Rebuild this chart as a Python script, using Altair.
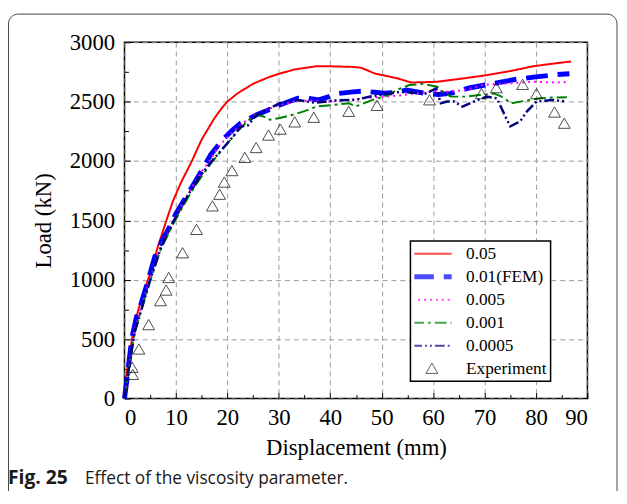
import altair as alt
import pandas as pd

series_names = ["0.05", "0.01(FEM)", "0.005", "0.001", "0.0005"]
legend_names = series_names + ["Experiment"]

disp_a = [0, 0.4, 1, 1.7, 2.7, 4, 5.3, 6.5, 8, 9.4, 11, 13, 15, 17.5, 19, 20, 22, 25, 28, 30.2,
          33, 37.2, 40, 44.5, 46, 48.7, 51, 53.2, 55.7, 58, 60.8, 65, 70.3, 75, 79.4, 83, 86.8]
load_a = [0, 200, 380, 560, 750, 930, 1090, 1280, 1480, 1660, 1820, 1990, 2180, 2361, 2450, 2500, 2570, 2650, 2705, 2736,
          2770, 2797, 2797, 2792, 2785, 2736, 2715, 2694, 2661, 2663, 2667, 2690, 2722, 2757, 2797, 2818, 2838]

disp_b = [0, 0.5, 1.4, 2.3, 3.3, 4.5, 5.9, 7.3, 8.6, 10, 11.3, 12.7, 14.6, 16.8, 19.1, 21, 22.6, 25.7, 28, 30.2,
          33.7, 35.5, 37.8, 41.6, 44, 46.4, 50.6, 53, 54.8, 58.6, 61, 63.4, 67.2, 71.8, 75.9, 79.9, 84, 86.5]
load_b = [0, 170, 500, 680, 808, 980, 1195, 1330, 1430, 1556, 1650, 1750, 1889, 2056, 2180, 2260, 2319, 2389, 2430, 2472,
          2528, 2530, 2514, 2569, 2580, 2588, 2570, 2578, 2597, 2569, 2560, 2569, 2617, 2653, 2686, 2708, 2727, 2735]

disp_c = [0, 1, 2, 3.5, 5, 7, 9, 11, 13, 15, 17, 18, 20, 23, 25, 27.6, 30, 33, 36, 40,
          43.6, 47, 51.3, 55, 58, 61, 63, 66.5, 69.8, 74.2, 79.5, 83.9, 86]
load_c = [0, 320, 580, 800, 1010, 1280, 1460, 1620, 1770, 1910, 2030, 2110, 2200, 2320, 2380, 2431, 2470, 2500, 2510, 2500,
          2514, 2530, 2542, 2560, 2575, 2590, 2583, 2600, 2642, 2653, 2667, 2661, 2665]

disp_d = [0, 1, 2, 3.5, 5, 7, 9, 11, 13, 15, 17, 19, 21, 22.6, 24, 25.7, 27, 28.3, 30, 32.7,
          35, 37.3, 40, 43.6, 45, 48, 51.3, 53, 55.4, 58, 60.8, 62, 63.4, 66.5, 69, 71.8, 73.2, 75.2, 77, 80.8,
          83.3, 86]
load_d = [0, 300, 560, 780, 990, 1250, 1430, 1590, 1740, 1870, 1990, 2095, 2200, 2278, 2340, 2389, 2375, 2347, 2360, 2389,
          2420, 2458, 2470, 2486, 2460, 2510, 2556, 2600, 2639, 2650, 2625, 2580, 2542, 2542, 2555, 2569, 2545, 2486, 2500, 2528,
          2535, 2536]

disp_e = [0, 1, 2, 3.5, 5, 7, 9, 11, 13, 15, 17, 19, 21, 22.6, 24, 25.5, 27, 30.2, 33.7, 37,
          41, 44.9, 48, 51, 53.8, 56, 58.6, 60.6, 61.5, 62.7, 64.1, 65.7, 67.9, 70.4, 72.4, 74.2, 75, 76.9, 78.3, 80.1,
          83.3, 86]
load_e = [0, 300, 560, 780, 1000, 1260, 1450, 1610, 1760, 1890, 2000, 2100, 2200, 2290, 2300, 2380, 2420, 2486, 2514, 2490,
          2510, 2514, 2545, 2565, 2583, 2575, 2569, 2611, 2486, 2500, 2500, 2458, 2500, 2542, 2528, 2361, 2292, 2333, 2420, 2500,
          2514, 2500]

exp_x = [1.5, 1.6, 2.8, 4.7, 7.0, 8.1, 8.6, 11.3, 14.0, 17.1, 18.5, 19.4, 20.9, 23.4, 25.6, 28.0, 30.3, 33.1, 36.8, 43.6,
         49.1, 59.3, 69.4, 72.3, 77.4, 80.1, 83.6, 85.5]
exp_y = [260, 200, 414, 619, 821, 910, 1016, 1224, 1421, 1619, 1717, 1819, 1916, 2027, 2110, 2215, 2265, 2326, 2365, 2415,
         2465, 2512, 2564, 2614, 2642, 2564, 2409, 2315]

x_ticks = list(range(0, 91, 10))
y_ticks = list(range(0, 3001, 500))

rows = []
for name, xs, ys in zip(series_names, [disp_a, disp_b, disp_c, disp_d, disp_e],
                        [load_a, load_b, load_c, load_d, load_e]):
    for a, b in zip(xs, ys):
        rows.append({"series": name, "disp": a, "load": b})
lines_df = pd.DataFrame(rows)
exp_df = pd.DataFrame({"series": ["Experiment"] * len(exp_x), "disp": exp_x, "load": exp_y})
one = pd.DataFrame({"k": [0]})

colors = ["#FF0000", "#0000FF", "#FF00FF", "#008000", "#000080", "#000000"]
dashes = [[1, 0], [22, 10], [2, 4], [12, 4, 3, 4], [10, 3, 2, 3, 2, 3], [1, 0]]
tri = "M0,-0.28L-0.3,0.24L0.3,0.24Z"
shapes = ["stroke"] * 5 + [tri]

xscale = alt.Scale(domain=[0, 90], nice=False, zero=False)
yscale = alt.Scale(domain=[0, 3000], nice=False, zero=False)

legend = alt.Legend(
    title=None, orient="none", legendX=289.7, legendY=201.5,
    symbolSize=1600, symbolOffset=9,
    symbolStrokeWidth={"expr": "datum.value === '0.01(FEM)' ? 5 : (datum.value === 'Experiment' ? 1 : 2)"},
    labelFont="Liberation Serif", labelFontSize=17.5,
    labelColor="black", labelOffset=25.8, padding=4, rowPadding=4.3, clipHeight=17.5,
    strokeColor="black", fillColor="white",
)

frame = alt.Chart(one).mark_rect(fillOpacity=0, stroke="#444", strokeWidth=1, cornerRadius=10).encode(
    x=alt.value(-117.5), x2=alt.value(499), y=alt.value(-28.5), y2=alt.value(480)
)

lines = alt.Chart(lines_df).mark_line(strokeCap="butt").encode(
    x=alt.X("disp:Q", scale=xscale, axis=alt.Axis(
        orient="bottom", values=x_ticks, title="Displacement (mm)", ticks=False, tickSize=0,
        domain=False, grid=True, gridDash=[5, 4], gridColor="#999", gridWidth=1,
        labelPadding=8, titlePadding=8)),
    y=alt.Y("load:Q", scale=yscale, axis=alt.Axis(
        orient="left", values=y_ticks, format="d", title="Load (kN)", ticks=False, tickSize=0,
        domain=False, grid=True, gridDash=[5, 4], gridColor="#999", gridWidth=1,
        labelPadding=10, titlePadding=14)),
    color=alt.Color("series:N", scale=alt.Scale(domain=legend_names, range=colors), legend=legend),
    strokeDash=alt.StrokeDash("series:N", scale=alt.Scale(domain=legend_names, range=dashes), legend=legend),
    strokeWidth={"condition": [
        {"test": "datum.series === '0.01(FEM)'", "value": 5},
        {"test": "datum.series === '0.0005'", "value": 2.5}], "value": 2},
)

points = alt.Chart(exp_df).mark_point(filled=False, color="black", strokeWidth=1, size=1600).encode(
    x=alt.X("disp:Q", scale=xscale, axis=alt.Axis(
        orient="top", offset=-361, values=list(range(0, 91, 5)), labels=False, domain=False, grid=False,
        ticks=True, tickColor="black", tickWidth=1,
        tickSize={"condition": {"test": "datum.value % 10 === 0", "value": 6}, "value": 4}, title=None)),
    y=alt.Y("load:Q", scale=yscale, axis=alt.Axis(
        orient="right", offset=-469, values=list(range(0, 3001, 250)), labels=False, domain=False, grid=False,
        ticks=True, tickColor="black", tickWidth=1,
        tickSize={"condition": {"test": "datum.value % 500 === 0", "value": 6}, "value": 4}, title=None)),
    shape=alt.Shape("series:N", scale=alt.Scale(domain=legend_names, range=shapes), legend=legend),
)

cap1 = alt.Chart(one).mark_text(align="left", baseline="alphabetic", font="Open Sans", fontSize=19.5,
                                fontWeight="bold", color="#1a1a1a").encode(
    x=alt.value(-118), y=alt.value(447.5), text=alt.value("Fig. 25"))
cap2 = alt.Chart(one).mark_text(align="left", baseline="alphabetic", font="Open Sans", fontSize=17.5,
                                color="#1a1a1a").encode(
    x=alt.value(-40), y=alt.value(447.5), text=alt.value("Effect of the viscosity parameter."))

chart = alt.layer(frame, lines, points, cap1, cap2).resolve_axis(x="independent", y="independent").properties(
    width=469, height=361,
    padding={"left": 118, "top": 31.5, "right": 32, "bottom": 90.5},
    autosize=alt.AutoSizeParams(type="none"),
).configure_view(stroke="black", strokeWidth=1.5).configure_axis(
    labelFont="Liberation Serif", labelFontSize=23, labelColor="black",
    titleFont="Liberation Serif", titleFontSize=23, titleFontWeight="normal", titleColor="black",
).configure_legend(strokeWidth=1.5)

chart.save("out.html", embed_options={"renderer": "svg", "actions": False})
